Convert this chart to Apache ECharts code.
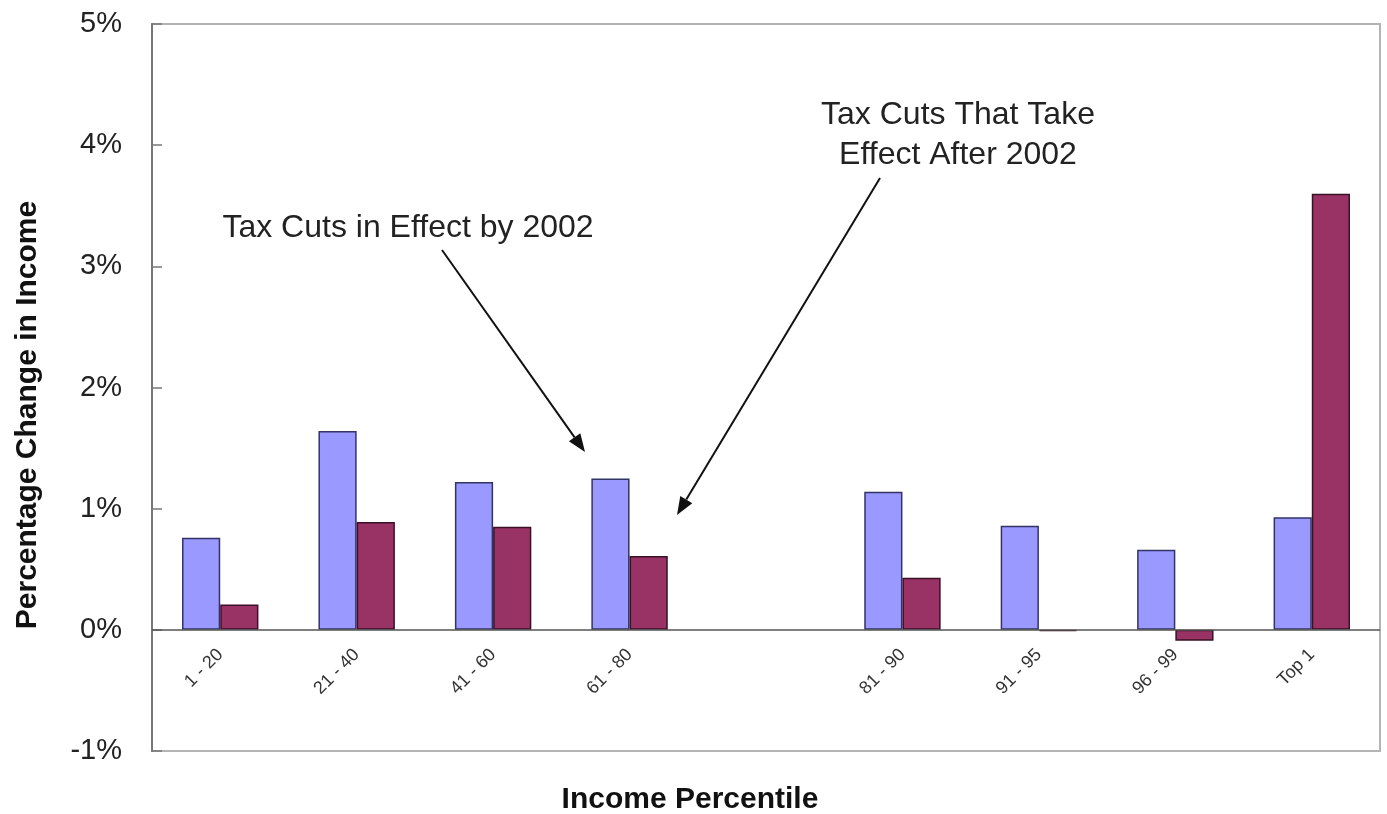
<!DOCTYPE html>
<html>
<head>
<meta charset="utf-8">
<script src="https://cdn.jsdelivr.net/npm/echarts@6/dist/echarts.min.js"></script>
<style>
  html, body { margin: 0; padding: 0; background: #ffffff; }
  #chart { width: 1387px; height: 814px; }
</style>
</head>
<body>
<div id="chart"></div>
<script>
// Income groups (the blank slot separates the quintiles from the top-quintile breakdown)
const categories = ['1 - 20', '21 - 40', '41 - 60', '61 - 80', '', '81 - 90', '91 - 95', '96 - 99', 'Top 1'];

// Percentage change in after-tax income
const cutsInEffectBy2002 = [0.76, 1.64, 1.22, 1.25, '-', 1.14, 0.86, 0.66, 0.93];
const cutsAfter2002 = [0.21, 0.89, 0.85, 0.61, '-', 0.43, -0.01, -0.09, 3.60];

// Value axis range, in percent
const yMin = -1;
const yMax = 5;
const yStep = 1;

const FONT = '"Liberation Sans", Arial, sans-serif';

// Plot box, in pixels
const GRID = { left: 152, right: 7, top: 24, bottom: 63 };
const CHART_H = 814;

// Straight arrow with a filled head, used for the callouts
function arrow(x1, y1, x2, y2) {
  const ang = Math.atan2(y2 - y1, x2 - x1);
  const len = 18, half = 7;
  const bx = x2 - len * Math.cos(ang), by = y2 - len * Math.sin(ang);
  const px = -Math.sin(ang) * half, py = Math.cos(ang) * half;
  return [
    { type: 'line', shape: { x1: x1, y1: y1, x2: bx, y2: by },
      style: { stroke: '#111', lineWidth: 2 }, silent: true },
    { type: 'polygon', shape: { points: [[x2, y2], [bx + px, by + py], [bx - px, by - py]] },
      style: { fill: '#111' }, silent: true }
  ];
}

// Category labels sit just under the zero line, so lift them from the plot bottom
const plotH = CHART_H - GRID.top - GRID.bottom;
const zeroFromBottom = plotH * (0 - yMin) / (yMax - yMin);
const labelMargin = 22 - zeroFromBottom;

const chart = echarts.init(document.getElementById('chart'), null, { renderer: 'canvas' });

chart.setOption({
  backgroundColor: '#ffffff',
  animation: false,
  grid: Object.assign({
    show: true, borderColor: '#b4b4b4', borderWidth: 2, backgroundColor: '#ffffff'
  }, GRID),
  xAxis: {
    type: 'category',
    data: categories,
    axisLine: { show: false, onZero: false },
    axisTick: { show: false },
    axisLabel: {
      interval: 0, rotate: 45, margin: labelMargin,
      fontFamily: FONT, fontSize: 18, color: '#333'
    },
    splitLine: { show: false }
  },
  yAxis: {
    type: 'value',
    min: yMin, max: yMax, interval: yStep,
    axisLine: { show: true, onZero: false, lineStyle: { color: '#777', width: 2 } },
    axisTick: { show: true, inside: true, length: 10, lineStyle: { color: '#777', width: 1.5 } },
    axisLabel: {
      formatter: '{value}%', margin: 30,
      fontFamily: FONT, fontSize: 29, color: '#222'
    },
    splitLine: { show: false }
  },
  series: [
    {
      name: 'Tax Cuts in Effect by 2002',
      type: 'bar',
      data: cutsInEffectBy2002,
      barGap: '0%',
      barCategoryGap: '44%',
      itemStyle: { color: '#9999ff', borderColor: '#333366', borderWidth: 1.5 },
      markLine: {
        silent: true, symbol: 'none', label: { show: false },
        lineStyle: { color: '#555', width: 1.5, type: 'solid' },
        data: [{ yAxis: 0 }]
      }
    },
    {
      name: 'Tax Cuts That Take Effect After 2002',
      type: 'bar',
      data: cutsAfter2002,
      barGap: '0%',
      barCategoryGap: '44%',
      itemStyle: { color: '#993366', borderColor: '#3a1026', borderWidth: 1.5 }
    }
  ],
  graphic: [
    {
      type: 'text', x: 28, y: 415, rotation: Math.PI / 2, silent: true,
      style: {
        text: 'Percentage Change in Income', fontFamily: FONT, fontSize: 30,
        fontWeight: 'bold', fill: '#111', align: 'center', verticalAlign: 'middle'
      }
    },
    {
      type: 'text', x: 690, y: 800, silent: true,
      style: {
        text: 'Income Percentile', fontFamily: FONT, fontSize: 30,
        fontWeight: 'bold', fill: '#111', align: 'center', verticalAlign: 'middle'
      }
    },
    {
      type: 'text', x: 408, y: 228, silent: true,
      style: {
        text: 'Tax Cuts in Effect by 2002', fontFamily: FONT, fontSize: 32,
        fill: '#222', align: 'center', verticalAlign: 'middle'
      }
    },
    {
      type: 'text', x: 958, y: 135, silent: true,
      style: {
        text: 'Tax Cuts That Take\nEffect After 2002', fontFamily: FONT, fontSize: 32,
        lineHeight: 40, fill: '#222', align: 'center', verticalAlign: 'middle'
      }
    }
  ].concat(arrow(442, 250, 585, 452), arrow(880, 178, 677, 515))
});
</script>
</body>
</html>
